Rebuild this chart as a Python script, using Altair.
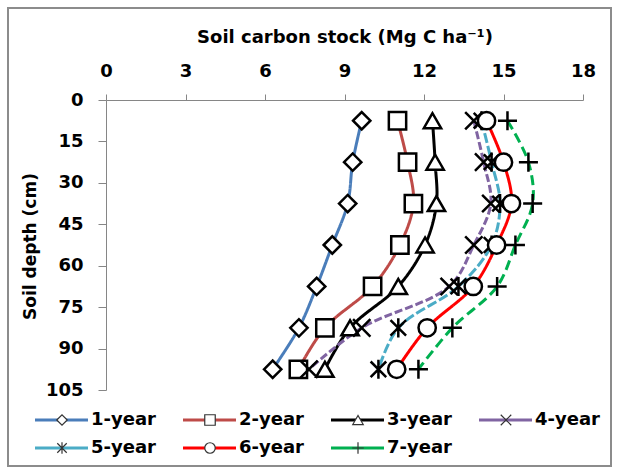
import altair as alt
import pandas as pd

# ---- data ----
depths = [7.5, 22.5, 37.5, 52.5, 67.5, 82.5, 97.5]
series_names = ["1-year", "2-year", "3-year", "4-year", "5-year", "6-year", "7-year"]
year1 = [9.65, 9.31, 9.12, 8.54, 7.95, 7.28, 6.29]
year2 = [11.00, 11.38, 11.60, 11.09, 10.06, 8.26, 7.26]
year3 = [12.32, 12.42, 12.47, 12.04, 11.03, 9.21, 8.26]
year4 = [13.88, 14.25, 14.52, 13.88, 12.95, 9.65, 7.66]
year5 = [14.17, 14.55, 14.87, 14.55, 13.30, 11.03, 10.28]
year6 = [14.36, 15.00, 15.30, 14.74, 13.86, 12.12, 10.97]
year7 = [15.15, 15.94, 16.10, 15.45, 14.76, 13.07, 11.79]
x_ticks = [0, 3, 6, 9, 12, 15, 18]
y_ticks = [0, 15, 30, 45, 60, 75, 90, 105]
legend_cols = [0, 1, 2, 3, 0, 1, 2]
legend_rows = [0, 0, 0, 0, 1, 1, 1]

# ---- styles ----
colors = ["#4A7DBA", "#BE4B48", "#000000", "#8064A2", "#4BACC6", "#FF0000", "#00B050"]
dashes = [[1, 0], [1, 0], [1, 0], [8, 3], [10, 3], [1, 0], [10, 5]]
shapes = [
    "diamond",
    "square",
    "triangle-up",
    "M-1,-1L1,1M-1,1L1,-1",
    "M-0.9,-0.9L0.9,0.9M-0.9,0.9L0.9,-0.9M0,-1.1L0,1.1",
    "circle",
    "M-1.1,0L1.1,0M0,-1.1L0,1.1",
]
FONT = "DejaVu Sans"

all_vals = [year1, year2, year3, year4, year5, year6, year7]
rows = []
for name, vals in zip(series_names, all_vals):
    for d, v in zip(depths, vals):
        rows.append({"series": name, "depth": d, "stock": v})
df = pd.DataFrame(rows)

leg_df = pd.DataFrame({"series": series_names, "col": legend_cols, "row": legend_rows})

color_scale = alt.Scale(domain=series_names, range=colors)
shape_scale = alt.Scale(domain=series_names, range=shapes)
dash_scale = alt.Scale(domain=series_names, range=dashes)

x_enc = alt.X(
    "stock:Q",
    scale=alt.Scale(domain=[0, 18], nice=False, zero=False),
    axis=alt.Axis(
        orient="top",
        values=x_ticks,
        grid=False,
        domainColor="#868686",
        tickColor="#868686",
        tickSize=6,
        labelFont=FONT,
        labelFontSize=18,
        labelFontWeight="bold",
        labelColor="black",
        labelBaseline="alphabetic",
        labelPadding=18,
        labelFlush=False,
        title="Soil carbon stock (Mg C ha⁻¹)",
        titleFont=FONT,
        titleFontSize=18,
        titleFontWeight="bold",
        titleColor="black",
        titleBaseline="alphabetic",
        titleY=-58,
    ),
)
y_enc = alt.Y(
    "depth:Q",
    scale=alt.Scale(domain=[0, 105], reverse=True, nice=False, zero=False),
    axis=alt.Axis(
        values=y_ticks,
        grid=False,
        domainColor="#868686",
        tickColor="#868686",
        tickSize=8,
        labelFont=FONT,
        labelFontSize=18,
        labelFontWeight="bold",
        labelColor="black",
        labelPadding=15,
        labelFlush=False,
        title="Soil depth (cm)",
        titleFont=FONT,
        titleFontSize=17,
        titleFontWeight="bold",
        titleColor="black",
        titleAngle=270,
        titleAlign="center",
        titleBaseline="middle",
        titleX=-76,
        titleY=146,
    ),
)

lines = alt.Chart(df).mark_line(strokeWidth=3, interpolate="catmull-rom").encode(
    x=x_enc,
    y=y_enc,
    color=alt.Color("series:N", scale=color_scale, legend=None),
    strokeDash=alt.StrokeDash("series:N", scale=dash_scale, legend=None),
    order=alt.Order("depth:Q"),
    detail="series:N",
)

points = alt.Chart(df).mark_point(size=300, strokeWidth=2.5, opacity=1).encode(
    x=alt.X("stock:Q"),
    y=alt.Y("depth:Q"),
    shape=alt.Shape("series:N", scale=shape_scale, legend=None),
    fill=alt.value("white"),
    stroke=alt.value("black"),
)

main = alt.layer(lines, points)

leg_x = alt.X("col:Q", scale=alt.Scale(domain=[0, 4], range=[-71, 521]), axis=None)
leg_y = alt.Y("row:Q", scale=alt.Scale(domain=[0, 1], range=[320, 348]), axis=None)

leg_rule = alt.Chart(leg_df).mark_rule(strokeWidth=3, x2Offset=53).encode(
    x=leg_x,
    x2=alt.X2("col:Q"),
    y=leg_y,
    color=alt.Color("series:N", scale=color_scale, legend=None),
)
leg_pt = alt.Chart(leg_df).mark_point(size=110, strokeWidth=1.2, opacity=1, xOffset=27).encode(
    x=leg_x,
    y=leg_y,
    shape=alt.Shape("series:N", scale=shape_scale, legend=None),
    fill=alt.value("white"),
    stroke=alt.value("#333333"),
)
leg_txt = alt.Chart(leg_df).mark_text(
    align="left", baseline="middle", dx=56, font=FONT, fontSize=18, fontWeight="bold", color="black"
).encode(x=leg_x, y=leg_y, text="series:N")

legend = alt.layer(leg_rule, leg_pt, leg_txt)

frame = alt.Chart(pd.DataFrame({"a": [0]})).mark_rect(
    fill="transparent", stroke="#8c8c8c", strokeWidth=2
).encode(x=alt.value(-98), x2=alt.value(505), y=alt.value(-92), y2=alt.value(366))

chart = (
    alt.layer(frame, main, legend)
    .resolve_scale(x="independent", y="independent")
    .properties(
        width=477,
        height=290,
        autosize=alt.AutoSizeParams(type="none"),
        padding={"left": 106, "top": 100, "right": 34, "bottom": 78},
        background="white",
    )
    .configure_view(stroke=None)
)

chart.save("out.html", embed_options={"renderer": "svg", "actions": False})
